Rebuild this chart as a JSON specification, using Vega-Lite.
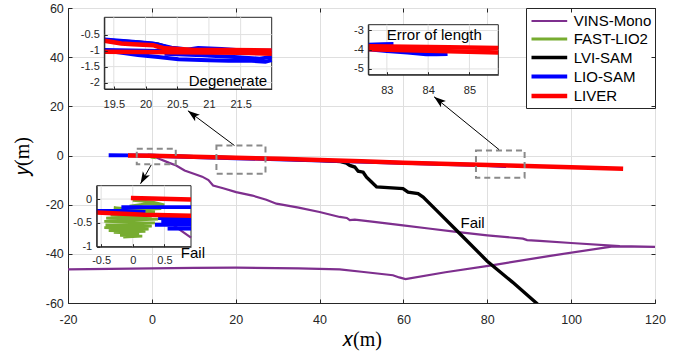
{
  "$schema": "https://vega.github.io/schema/vega-lite/v6.json",
  "width": 587,
  "height": 295,
  "autosize": {"type": "none"},
  "padding": {"left": 68, "top": 8, "right": 29, "bottom": 50},
  "background": "white",
  "config": {
    "locale": {"number": {"decimal": ".", "thousands": ",", "grouping": [3], "currency": ["$", ""], "minus": "-"}},
    "view": {"stroke": "#262626", "strokeWidth": 1},
    "font": "Liberation Sans",
    "axis": {
      "labelFont": "Liberation Sans", "labelFontSize": 12.5, "labelColor": "#262626",
      "domainColor": "#262626", "tickColor": "#262626", "gridColor": "#dfdfdf",
      "labelFlush": false, "labelOverlap": false, "tickSize": -4,
      "titleFont": "Liberation Serif", "titleFontSize": 20, "titleFontWeight": "normal", "titleColor": "black"
    },
    "legend": {
      "orient": "top-right", "offset": 0, "padding": 3, "strokeColor": "#262626", "fillColor": "white",
      "symbolType": "M-1,0L3.2,0", "symbolSize": 289, "symbolStrokeWidth": 2.5,
      "labelFontSize": 15, "labelColor": "black", "labelFont": "Liberation Sans", "labelOffset": 22.7,
      "rowPadding": 0, "cornerRadius": 0
    }
  },
  "datasets": {
    "main": [
      {"s": "VINS-Mono", "x": 0.3, "y": -0.2}, {"s": "VINS-Mono", "x": 2, "y": -1.5}, {"s": "VINS-Mono", "x": 4, "y": -2.9},
      {"s": "VINS-Mono", "x": 5.8, "y": -4.05}, {"s": "VINS-Mono", "x": 7.8, "y": -6.1}, {"s": "VINS-Mono", "x": 10, "y": -7.4},
      {"s": "VINS-Mono", "x": 12, "y": -8.6}, {"s": "VINS-Mono", "x": 13.5, "y": -10}, {"s": "VINS-Mono", "x": 14.6, "y": -12.2},
      {"s": "VINS-Mono", "x": 17, "y": -13.3}, {"s": "VINS-Mono", "x": 20.1, "y": -14.9}, {"s": "VINS-Mono", "x": 24, "y": -16.3},
      {"s": "VINS-Mono", "x": 27.3, "y": -18}, {"s": "VINS-Mono", "x": 29.7, "y": -19.6}, {"s": "VINS-Mono", "x": 35, "y": -21.2},
      {"s": "VINS-Mono", "x": 40, "y": -23}, {"s": "VINS-Mono", "x": 44.8, "y": -25}, {"s": "VINS-Mono", "x": 46.5, "y": -25.4},
      {"s": "VINS-Mono", "x": 47.2, "y": -26.3}, {"s": "VINS-Mono", "x": 48.4, "y": -26.1}, {"s": "VINS-Mono", "x": 52, "y": -26.8},
      {"s": "VINS-Mono", "x": 59.9, "y": -28.4}, {"s": "VINS-Mono", "x": 66, "y": -29.7}, {"s": "VINS-Mono", "x": 72.6, "y": -31.1},
      {"s": "VINS-Mono", "x": 80, "y": -32.5}, {"s": "VINS-Mono", "x": 88.5, "y": -33.8}, {"s": "VINS-Mono", "x": 89.5, "y": -34.4},
      {"s": "VINS-Mono", "x": 92.5, "y": -34.7}, {"s": "VINS-Mono", "x": 100, "y": -35.6}, {"s": "VINS-Mono", "x": 111.6, "y": -36.9},
      {"s": "VINS-Mono", "x": 120, "y": -37.2}, {"s": "VINS-Mono", "x": 126, "y": -37.3}, {"s": "VINS-Mono", "x": 120, "y": -37.15},
      {"s": "VINS-Mono", "x": 110, "y": -37.0}, {"s": "VINS-Mono", "x": 95, "y": -40.8}, {"s": "VINS-Mono", "x": 81.4, "y": -44.6},
      {"s": "VINS-Mono", "x": 70, "y": -47.5}, {"s": "VINS-Mono", "x": 60.5, "y": -50.3}, {"s": "VINS-Mono", "x": 59, "y": -49.6},
      {"s": "VINS-Mono", "x": 57.5, "y": -48.7}, {"s": "VINS-Mono", "x": 50, "y": -47.3}, {"s": "VINS-Mono", "x": 44.8, "y": -46.3},
      {"s": "VINS-Mono", "x": 35, "y": -45.9}, {"s": "VINS-Mono", "x": 20.1, "y": -45.6}, {"s": "VINS-Mono", "x": 10, "y": -45.7},
      {"s": "VINS-Mono", "x": 0, "y": -45.9}, {"s": "VINS-Mono", "x": -10, "y": -46.1}, {"s": "VINS-Mono", "x": -20, "y": -46.3},
      {"s": "VINS-Mono", "x": -25, "y": -46.4},
      {"s": "FAST-LIO2", "x": -0.4, "y": -0.3}, {"s": "FAST-LIO2", "x": 0.4, "y": -0.5}, {"s": "FAST-LIO2", "x": -0.3, "y": -0.7},
      {"s": "FAST-LIO2", "x": 0.3, "y": -0.8}, {"s": "FAST-LIO2", "x": 0, "y": -0.2},
      {"s": "LVI-SAM", "x": -1, "y": 0.05}, {"s": "LVI-SAM", "x": 10, "y": -0.45}, {"s": "LVI-SAM", "x": 20, "y": -0.85},
      {"s": "LVI-SAM", "x": 30, "y": -1.4}, {"s": "LVI-SAM", "x": 40, "y": -2.0}, {"s": "LVI-SAM", "x": 45, "y": -2.5},
      {"s": "LVI-SAM", "x": 46.4, "y": -3.1}, {"s": "LVI-SAM", "x": 47.2, "y": -4.05}, {"s": "LVI-SAM", "x": 48.4, "y": -4.7},
      {"s": "LVI-SAM", "x": 49.2, "y": -6.4}, {"s": "LVI-SAM", "x": 50.4, "y": -6.8}, {"s": "LVI-SAM", "x": 51.2, "y": -8.8},
      {"s": "LVI-SAM", "x": 52.4, "y": -10.8}, {"s": "LVI-SAM", "x": 53.6, "y": -12.8}, {"s": "LVI-SAM", "x": 59.9, "y": -13.5},
      {"s": "LVI-SAM", "x": 61.1, "y": -14.9}, {"s": "LVI-SAM", "x": 63.5, "y": -15.5}, {"s": "LVI-SAM", "x": 64.7, "y": -16.9},
      {"s": "LVI-SAM", "x": 67.9, "y": -22.3}, {"s": "LVI-SAM", "x": 73, "y": -31}, {"s": "LVI-SAM", "x": 80, "y": -43},
      {"s": "LVI-SAM", "x": 86, "y": -51.5}, {"s": "LVI-SAM", "x": 91.7, "y": -60}, {"s": "LVI-SAM", "x": 93, "y": -62},
      {"s": "LIO-SAM", "x": -10.3, "y": 0.1}, {"s": "LIO-SAM", "x": -5, "y": 0.05}, {"s": "LIO-SAM", "x": 0, "y": -0.1},
      {"s": "LIO-SAM", "x": 10, "y": -0.6}, {"s": "LIO-SAM", "x": 20, "y": -1.1}, {"s": "LIO-SAM", "x": 30, "y": -1.5},
      {"s": "LIO-SAM", "x": 45, "y": -2.3}, {"s": "LIO-SAM", "x": 60, "y": -3.0}, {"s": "LIO-SAM", "x": 75, "y": -3.7},
      {"s": "LIO-SAM", "x": 80, "y": -3.9}, {"s": "LIO-SAM", "x": 84.5, "y": -4.3},
      {"s": "LIVER", "x": -5.7, "y": 0.05}, {"s": "LIVER", "x": 0, "y": -0.1}, {"s": "LIVER", "x": 10, "y": -0.5},
      {"s": "LIVER", "x": 20, "y": -0.95}, {"s": "LIVER", "x": 30.5, "y": -1.35}, {"s": "LIVER", "x": 40, "y": -1.8},
      {"s": "LIVER", "x": 50, "y": -2.3}, {"s": "LIVER", "x": 60, "y": -2.9}, {"s": "LIVER", "x": 73.4, "y": -3.6},
      {"s": "LIVER", "x": 85, "y": -4.1}, {"s": "LIVER", "x": 100, "y": -4.8}, {"s": "LIVER", "x": 112.4, "y": -5.4}
    ],
    "ins": [
      {"i": 1, "s": "LVI-SAM", "g": 1, "x": 19.35, "y": -0.67}, {"i": 1, "s": "LVI-SAM", "g": 1, "x": 19.9, "y": -0.74},
      {"i": 1, "s": "LVI-SAM", "g": 1, "x": 20.2, "y": -0.8}, {"i": 1, "s": "LVI-SAM", "g": 1, "x": 20.4, "y": -0.92},
      {"i": 1, "s": "LVI-SAM", "g": 1, "x": 20.7, "y": -0.97},
      {"i": 1, "s": "LIO-SAM", "g": 1, "x": 19.35, "y": -0.65}, {"i": 1, "s": "LIO-SAM", "g": 1, "x": 19.8, "y": -0.72},
      {"i": 1, "s": "LIO-SAM", "g": 1, "x": 20.12, "y": -0.78}, {"i": 1, "s": "LIO-SAM", "g": 1, "x": 20.41, "y": -0.91},
      {"i": 1, "s": "LIO-SAM", "g": 1, "x": 20.6, "y": -0.95},
      {"i": 1, "s": "LIO-SAM", "g": 2, "x": 19.35, "y": -1.0}, {"i": 1, "s": "LIO-SAM", "g": 2, "x": 19.6, "y": -1.06},
      {"i": 1, "s": "LIO-SAM", "g": 2, "x": 19.88, "y": -1.14}, {"i": 1, "s": "LIO-SAM", "g": 2, "x": 20.2, "y": -1.2},
      {"i": 1, "s": "LIO-SAM", "g": 2, "x": 20.52, "y": -1.27}, {"i": 1, "s": "LIO-SAM", "g": 2, "x": 21.0, "y": -1.3},
      {"i": 1, "s": "LIO-SAM", "g": 2, "x": 21.31, "y": -1.32}, {"i": 1, "s": "LIO-SAM", "g": 2, "x": 21.6, "y": -1.31},
      {"i": 1, "s": "LIO-SAM", "g": 2, "x": 21.89, "y": -1.35}, {"i": 1, "s": "LIO-SAM", "g": 2, "x": 21.99, "y": -1.3},
      {"i": 1, "s": "LIO-SAM", "g": 3, "x": 19.35, "y": -0.98}, {"i": 1, "s": "LIO-SAM", "g": 3, "x": 20.0, "y": -1.0},
      {"i": 1, "s": "LIO-SAM", "g": 3, "x": 20.5, "y": -1.02}, {"i": 1, "s": "LIO-SAM", "g": 3, "x": 20.83, "y": -0.92},
      {"i": 1, "s": "LIO-SAM", "g": 3, "x": 21.2, "y": -0.95}, {"i": 1, "s": "LIO-SAM", "g": 3, "x": 21.6, "y": -1.0},
      {"i": 1, "s": "LIO-SAM", "g": 3, "x": 21.99, "y": -1.0},
      {"i": 1, "s": "LIO-SAM", "g": 4, "x": 20.3, "y": -1.1}, {"i": 1, "s": "LIO-SAM", "g": 4, "x": 20.9, "y": -1.15},
      {"i": 1, "s": "LIO-SAM", "g": 4, "x": 21.4, "y": -1.2}, {"i": 1, "s": "LIO-SAM", "g": 4, "x": 21.8, "y": -1.25},
      {"i": 1, "s": "LIO-SAM", "g": 4, "x": 21.99, "y": -1.2},
      {"i": 1, "s": "LIVER", "g": 1, "x": 19.35, "y": -0.69}, {"i": 1, "s": "LIVER", "g": 1, "x": 19.62, "y": -0.78},
      {"i": 1, "s": "LIVER", "g": 1, "x": 19.8, "y": -0.8}, {"i": 1, "s": "LIVER", "g": 1, "x": 20.12, "y": -0.83},
      {"i": 1, "s": "LIVER", "g": 1, "x": 20.2, "y": -0.88}, {"i": 1, "s": "LIVER", "g": 1, "x": 20.31, "y": -0.93},
      {"i": 1, "s": "LIVER", "g": 1, "x": 20.78, "y": -0.98}, {"i": 1, "s": "LIVER", "g": 1, "x": 21.3, "y": -0.98},
      {"i": 1, "s": "LIVER", "g": 1, "x": 21.99, "y": -1.0},
      {"i": 1, "s": "LIVER", "g": 2, "x": 19.35, "y": -1.04}, {"i": 1, "s": "LIVER", "g": 2, "x": 20.5, "y": -1.05},
      {"i": 1, "s": "LIVER", "g": 2, "x": 21.5, "y": -1.07}, {"i": 1, "s": "LIVER", "g": 2, "x": 21.99, "y": -1.1},
      {"i": 2, "s": "LIO-SAM", "g": 1, "x": 82.55, "y": -3.74}, {"i": 2, "s": "LIO-SAM", "g": 1, "x": 82.9, "y": -3.72},
      {"i": 2, "s": "LIO-SAM", "g": 1, "x": 83.16, "y": -3.7},
      {"i": 2, "s": "LIO-SAM", "g": 2, "x": 82.55, "y": -3.98}, {"i": 2, "s": "LIO-SAM", "g": 2, "x": 83.0, "y": -4.07},
      {"i": 2, "s": "LIO-SAM", "g": 2, "x": 83.5, "y": -4.15}, {"i": 2, "s": "LIO-SAM", "g": 2, "x": 83.95, "y": -4.24},
      {"i": 2, "s": "LIO-SAM", "g": 2, "x": 84.2, "y": -4.24}, {"i": 2, "s": "LIO-SAM", "g": 2, "x": 84.47, "y": -4.22},
      {"i": 2, "s": "LIVER", "g": 1, "x": 82.55, "y": -3.82}, {"i": 2, "s": "LIVER", "g": 1, "x": 83.5, "y": -3.85},
      {"i": 2, "s": "LIVER", "g": 1, "x": 84.5, "y": -3.87}, {"i": 2, "s": "LIVER", "g": 1, "x": 85.7, "y": -3.91},
      {"i": 2, "s": "LIVER", "g": 2, "x": 82.55, "y": -3.98}, {"i": 2, "s": "LIVER", "g": 2, "x": 83.5, "y": -4.03},
      {"i": 2, "s": "LIVER", "g": 2, "x": 84.5, "y": -4.08}, {"i": 2, "s": "LIVER", "g": 2, "x": 85.7, "y": -4.14},
      {"i": 3, "s": "VINS-Mono", "g": 1, "x": 0.6, "y": -0.5}, {"i": 3, "s": "VINS-Mono", "g": 1, "x": 0.74, "y": -0.64},
      {"i": 3, "s": "VINS-Mono", "g": 1, "x": 0.92, "y": -0.81},
      {"i": 3, "s": "FAST-LIO2", "g": 1, "x": 0.0, "y": -0.03}, {"i": 3, "s": "FAST-LIO2", "g": 1, "x": 0.3, "y": -0.06},
      {"i": 3, "s": "FAST-LIO2", "g": 1, "x": 0.5, "y": -0.12}, {"i": 3, "s": "FAST-LIO2", "g": 1, "x": 0.2, "y": -0.1},
      {"i": 3, "s": "FAST-LIO2", "g": 1, "x": -0.05, "y": -0.15}, {"i": 3, "s": "FAST-LIO2", "g": 1, "x": 0.45, "y": -0.2},
      {"i": 3, "s": "FAST-LIO2", "g": 1, "x": 0.1, "y": -0.22}, {"i": 3, "s": "FAST-LIO2", "g": 1, "x": -0.3, "y": -0.18},
      {"i": 3, "s": "FAST-LIO2", "g": 1, "x": 0.35, "y": -0.27}, {"i": 3, "s": "FAST-LIO2", "g": 1, "x": -0.35, "y": -0.33},
      {"i": 3, "s": "FAST-LIO2", "g": 1, "x": 0.3, "y": -0.36}, {"i": 3, "s": "FAST-LIO2", "g": 1, "x": -0.42, "y": -0.4},
      {"i": 3, "s": "FAST-LIO2", "g": 1, "x": 0.4, "y": -0.42}, {"i": 3, "s": "FAST-LIO2", "g": 1, "x": -0.45, "y": -0.47},
      {"i": 3, "s": "FAST-LIO2", "g": 1, "x": 0.35, "y": -0.5}, {"i": 3, "s": "FAST-LIO2", "g": 1, "x": -0.43, "y": -0.54},
      {"i": 3, "s": "FAST-LIO2", "g": 1, "x": 0.3, "y": -0.57}, {"i": 3, "s": "FAST-LIO2", "g": 1, "x": -0.45, "y": -0.6},
      {"i": 3, "s": "FAST-LIO2", "g": 1, "x": 0.25, "y": -0.63}, {"i": 3, "s": "FAST-LIO2", "g": 1, "x": -0.38, "y": -0.66},
      {"i": 3, "s": "FAST-LIO2", "g": 1, "x": 0.2, "y": -0.68}, {"i": 3, "s": "FAST-LIO2", "g": 1, "x": -0.3, "y": -0.7},
      {"i": 3, "s": "FAST-LIO2", "g": 1, "x": 0.1, "y": -0.72}, {"i": 3, "s": "FAST-LIO2", "g": 1, "x": -0.2, "y": -0.76},
      {"i": 3, "s": "FAST-LIO2", "g": 1, "x": 0.15, "y": -0.78}, {"i": 3, "s": "FAST-LIO2", "g": 1, "x": -0.15, "y": -0.8},
      {"i": 3, "s": "FAST-LIO2", "g": 1, "x": 0.05, "y": -0.75}, {"i": 3, "s": "FAST-LIO2", "g": 1, "x": -0.25, "y": -0.62},
      {"i": 3, "s": "FAST-LIO2", "g": 1, "x": 0.1, "y": -0.5}, {"i": 3, "s": "FAST-LIO2", "g": 1, "x": -0.3, "y": -0.45},
      {"i": 3, "s": "FAST-LIO2", "g": 1, "x": 0.2, "y": -0.4}, {"i": 3, "s": "FAST-LIO2", "g": 1, "x": -0.2, "y": -0.35},
      {"i": 3, "s": "FAST-LIO2", "g": 1, "x": 0.05, "y": -0.28}, {"i": 3, "s": "FAST-LIO2", "g": 1, "x": -0.1, "y": -0.45},
      {"i": 3, "s": "FAST-LIO2", "g": 1, "x": 0.15, "y": -0.6}, {"i": 3, "s": "FAST-LIO2", "g": 1, "x": -0.35, "y": -0.55},
      {"i": 3, "s": "FAST-LIO2", "g": 1, "x": 0.0, "y": -0.65}, {"i": 3, "s": "FAST-LIO2", "g": 1, "x": -0.28, "y": -0.38},
      {"i": 3, "s": "LIO-SAM", "g": 1, "x": -0.18, "y": -0.17}, {"i": 3, "s": "LIO-SAM", "g": 1, "x": 0.3, "y": -0.17},
      {"i": 3, "s": "LIO-SAM", "g": 1, "x": 0.92, "y": -0.17},
      {"i": 3, "s": "LIO-SAM", "g": 2, "x": -0.57, "y": -0.25}, {"i": 3, "s": "LIO-SAM", "g": 2, "x": -0.1, "y": -0.25},
      {"i": 3, "s": "LIO-SAM", "g": 2, "x": 0.2, "y": -0.27},
      {"i": 3, "s": "LIO-SAM", "g": 3, "x": 0.4, "y": -0.4}, {"i": 3, "s": "LIO-SAM", "g": 3, "x": 0.7, "y": -0.41},
      {"i": 3, "s": "LIO-SAM", "g": 3, "x": 0.92, "y": -0.4},
      {"i": 3, "s": "LIO-SAM", "g": 4, "x": 0.45, "y": -0.47}, {"i": 3, "s": "LIO-SAM", "g": 4, "x": 0.92, "y": -0.47},
      {"i": 3, "s": "LIO-SAM", "g": 5, "x": 0.35, "y": -0.54}, {"i": 3, "s": "LIO-SAM", "g": 5, "x": 0.92, "y": -0.54},
      {"i": 3, "s": "LIO-SAM", "g": 6, "x": 0.55, "y": -0.62}, {"i": 3, "s": "LIO-SAM", "g": 6, "x": 0.92, "y": -0.62},
      {"i": 3, "s": "LIVER", "g": 1, "x": -0.03, "y": 0.02}, {"i": 3, "s": "LIVER", "g": 1, "x": 0.3, "y": 0.01},
      {"i": 3, "s": "LIVER", "g": 1, "x": 0.6, "y": 0.0}, {"i": 3, "s": "LIVER", "g": 1, "x": 0.92, "y": -0.01},
      {"i": 3, "s": "LIVER", "g": 2, "x": -0.57, "y": -0.28}, {"i": 3, "s": "LIVER", "g": 2, "x": 0.19, "y": -0.33},
      {"i": 3, "s": "LIVER", "g": 2, "x": 0.92, "y": -0.35}
    ],
    "frames": [
      {"i": 1, "x0": 19.35, "x1": 21.99, "y0": -2.2, "y1": 0.04},
      {"i": 2, "x0": 82.55, "x1": 85.7, "y0": -5.3, "y1": -2.7},
      {"i": 3, "x0": -0.57, "x1": 0.92, "y0": -1, "y1": 0.28}
    ],
    "grid": [
      {"i": 1, "d": "x", "v": 19.5}, {"i": 1, "d": "x", "v": 20}, {"i": 1, "d": "x", "v": 20.5}, {"i": 1, "d": "x", "v": 21}, {"i": 1, "d": "x", "v": 21.5},
      {"i": 1, "d": "y", "v": -2}, {"i": 1, "d": "y", "v": -1.5}, {"i": 1, "d": "y", "v": -1}, {"i": 1, "d": "y", "v": -0.5},
      {"i": 2, "d": "x", "v": 83}, {"i": 2, "d": "x", "v": 84}, {"i": 2, "d": "x", "v": 85},
      {"i": 2, "d": "y", "v": -5}, {"i": 2, "d": "y", "v": -4}, {"i": 2, "d": "y", "v": -3},
      {"i": 3, "d": "x", "v": -0.5}, {"i": 3, "d": "x", "v": 0}, {"i": 3, "d": "x", "v": 0.5},
      {"i": 3, "d": "y", "v": -0.5}, {"i": 3, "d": "y", "v": 0}
    ],
    "labels": [
      {"i": 0, "x": 76.5, "y": -27.4, "t": "Fail"},
      {"i": 1, "x": 21.3, "y": -1.94, "t": "Degenerate"},
      {"i": 2, "x": 84.15, "y": -3.22, "t": "Error of length"},
      {"i": 3, "x": 0.95, "y": -1.13, "t": "Fail"}
    ],
    "boxes": [
      {"x0": -3.6, "x1": 5.7, "y0": -3.6, "y1": 2.7},
      {"x0": 15.4, "x1": 27.1, "y0": -7.4, "y1": 4.05},
      {"x0": 77.3, "x1": 88.9, "y0": -9.0, "y1": 2.0}
    ],
    "arrows": [
      {"x0": 19.7, "y0": 4.05, "x1": 8.6, "y1": 18.2, "ang": 307},
      {"x0": 82.8, "y0": 2.4, "x1": 67.3, "y1": 23.9, "ang": 308.5},
      {"x0": -0.14, "y0": -3.8, "x1": -2.7, "y1": -11.5, "ang": 209}
    ]
  },
  "resolve": {"scale": {"x": "independent", "y": "independent"}, "axis": {"x": "independent", "y": "independent"}},
  "layer": [
    {
      "layer": [
        {
          "data": {"name": "main"},
          "mark": {"type": "line", "clip": true},
          "encoding": {
            "x": {"field": "x", "type": "quantitative", "scale": {"domain": [-20, 120], "nice": false, "zero": false},
                  "axis": {"orient": "bottom", "values": [-20, 0, 20, 40, 60, 80, 100, 120], "labelExpr": "'' + datum.value", "labelPadding": 14, "grid": true, "title": "𝑥(m)", "titlePadding": 4, "zindex": 0}},
            "y": {"field": "y", "type": "quantitative", "scale": {"domain": [-60, 60], "nice": false, "zero": false},
                  "axis": {"orient": "left", "values": [-60, -40, -20, 0, 20, 40, 60], "labelExpr": "'' + datum.value", "labelPadding": 8.7, "grid": true, "title": "𝑦(m)", "titlePadding": 13, "zindex": 0}},
            "color": {"field": "s", "type": "nominal", "scale": {"domain": ["VINS-Mono", "FAST-LIO2", "LVI-SAM", "LIO-SAM", "LIVER"], "range": ["#7E2F8E", "#77AC30", "#000000", "#0000FF", "#FF0000"]}, "legend": {"title": null}},
            "strokeWidth": {"field": "s", "type": "nominal", "scale": {"domain": ["VINS-Mono", "FAST-LIO2", "LVI-SAM", "LIO-SAM", "LIVER"], "range": [2.2, 4.5, 2, 3, 3.2]}, "legend": null},
            "order": {"value": null}
          }
        },
        {
          "data": {"name": "boxes"},
          "mark": {"type": "rect", "fillOpacity": 0, "stroke": "#8a8a8a", "strokeWidth": 2, "strokeDash": [6, 4]},
          "encoding": {"x": {"field": "x0", "type": "quantitative"}, "x2": {"field": "x1"}, "y": {"field": "y0", "type": "quantitative"}, "y2": {"field": "y1"}}
        },
        {
          "data": {"name": "arrows"},
          "mark": {"type": "rule", "color": "black", "strokeWidth": 1},
          "encoding": {"x": {"field": "x0", "type": "quantitative"}, "x2": {"field": "x1"}, "y": {"field": "y0", "type": "quantitative"}, "y2": {"field": "y1"}}
        },
        {
          "data": {"name": "arrows"},
          "mark": {"type": "point", "shape": "M0,0L0.5,1.5L0,1.15L-0.5,1.5Z", "filled": true, "color": "black", "opacity": 1, "size": 256},
          "encoding": {"x": {"field": "x1", "type": "quantitative"}, "y": {"field": "y1", "type": "quantitative"}, "angle": {"field": "ang", "type": "quantitative", "scale": null}}
        },
        {
          "data": {"name": "labels"},
          "transform": [{"filter": "datum.i == 0"}],
          "mark": {"type": "text", "fontSize": 15, "font": "Liberation Sans", "color": "black"},
          "encoding": {"x": {"field": "x", "type": "quantitative"}, "y": {"field": "y", "type": "quantitative"}, "text": {"field": "t"}}
        }
      ]
    },
    {
      "data": {"name": "boxes"},
      "mark": {"type": "rect", "opacity": 0},
      "encoding": {
        "x": {"field": "x0", "type": "quantitative", "scale": {"domain": [-20, 120], "nice": false, "zero": false},
              "axis": {"orient": "top", "values": [-20, 0, 20, 40, 60, 80, 100, 120], "labels": false, "domain": false, "grid": false, "title": null, "zindex": 1}},
        "x2": {"field": "x1"},
        "y": {"field": "y0", "type": "quantitative", "scale": {"domain": [-60, 60], "nice": false, "zero": false},
              "axis": {"orient": "right", "values": [-60, -40, -20, 0, 20, 40, 60], "labels": false, "domain": false, "grid": false, "title": null, "zindex": 1}},
        "y2": {"field": "y1"}
      }
    },
    {
      "layer": [
        {
          "data": {"name": "frames"},
          "transform": [{"filter": "datum.i == 1"}],
          "mark": {"type": "rect", "fill": "white", "stroke": "#262626", "strokeWidth": 1},
          "encoding": {
            "x": {"field": "x0", "type": "quantitative", "scale": {"domain": [19.35, 21.99], "range": [36.3, 203.7], "nice": false, "zero": false},
                  "axis": {"orient": "bottom", "offset": -214, "values": [19.5, 20, 20.5, 21, 21.5], "labelExpr": "'' + datum.value", "grid": false, "title": null, "zindex": 1, "tickSize": -3, "labelFontSize": 11, "labelPadding": 12}},
            "x2": {"field": "x1"},
            "y": {"field": "y0", "type": "quantitative", "scale": {"domain": [-2.2, 0.04], "range": [81, 9.3], "nice": false, "zero": false},
                  "axis": {"orient": "left", "offset": -36.3, "values": [-2, -1.5, -1, -0.5], "labelExpr": "'' + datum.value", "grid": false, "title": null, "zindex": 1, "tickSize": -3, "labelFontSize": 11, "labelPadding": 8}},
            "y2": {"field": "y1"}
          }
        },
        {
          "data": {"name": "grid"},
          "transform": [{"filter": "datum.i == 1 && datum.d == 'x'"}],
          "mark": {"type": "rule", "color": "#e0e0e0", "strokeWidth": 1},
          "encoding": {"x": {"field": "v", "type": "quantitative"}, "y": {"datum": -2.2, "type": "quantitative"}, "y2": {"datum": 0.04}}
        },
        {
          "data": {"name": "grid"},
          "transform": [{"filter": "datum.i == 1 && datum.d == 'y'"}],
          "mark": {"type": "rule", "color": "#e0e0e0", "strokeWidth": 1},
          "encoding": {"y": {"field": "v", "type": "quantitative"}, "x": {"datum": 19.35, "type": "quantitative"}, "x2": {"datum": 21.99}}
        },
        {
          "data": {"name": "ins"},
          "transform": [{"filter": "datum.i == 1"}],
          "mark": {"type": "line"},
          "encoding": {
            "x": {"field": "x", "type": "quantitative"},
            "y": {"field": "y", "type": "quantitative"},
            "color": {"field": "s", "type": "nominal", "legend": {"title": null}},
            "detail": {"field": "g"},
            "strokeWidth": {"field": "s", "type": "nominal", "legend": null},
            "order": {"value": null}
          }
        },
        {
          "data": {"name": "labels"},
          "transform": [{"filter": "datum.i == 1"}],
          "mark": {"type": "text", "fontSize": 15, "font": "Liberation Sans", "color": "black"},
          "encoding": {"x": {"field": "x", "type": "quantitative"}, "y": {"field": "y", "type": "quantitative"}, "text": {"field": "t"}}
        }
      ]
    },
    {
      "layer": [
        {
          "data": {"name": "frames"},
          "transform": [{"filter": "datum.i == 2"}],
          "mark": {"type": "rect", "fill": "white", "stroke": "#262626", "strokeWidth": 1},
          "encoding": {
            "x": {"field": "x0", "type": "quantitative", "scale": {"domain": [82.55, 85.7], "range": [300.3, 430.3], "nice": false, "zero": false},
                  "axis": {"orient": "bottom", "offset": -228.3, "values": [83, 84, 85], "labelExpr": "'' + datum.value", "grid": false, "title": null, "zindex": 1, "tickSize": -3, "labelFontSize": 11, "labelPadding": 13}},
            "x2": {"field": "x1"},
            "y": {"field": "y0", "type": "quantitative", "scale": {"domain": [-5.3, -2.7], "range": [66.7, 16.7], "nice": false, "zero": false},
                  "axis": {"orient": "left", "offset": -300.3, "values": [-5, -4, -3], "labelExpr": "'' + datum.value", "grid": false, "title": null, "zindex": 1, "tickSize": -3, "labelFontSize": 11, "labelPadding": 8}},
            "y2": {"field": "y1"}
          }
        },
        {
          "data": {"name": "grid"},
          "transform": [{"filter": "datum.i == 2 && datum.d == 'x'"}],
          "mark": {"type": "rule", "color": "#e0e0e0", "strokeWidth": 1},
          "encoding": {"x": {"field": "v", "type": "quantitative"}, "y": {"datum": -5.3, "type": "quantitative"}, "y2": {"datum": -2.7}}
        },
        {
          "data": {"name": "grid"},
          "transform": [{"filter": "datum.i == 2 && datum.d == 'y'"}],
          "mark": {"type": "rule", "color": "#e0e0e0", "strokeWidth": 1},
          "encoding": {"y": {"field": "v", "type": "quantitative"}, "x": {"datum": 82.55, "type": "quantitative"}, "x2": {"datum": 85.7}}
        },
        {
          "data": {"name": "ins"},
          "transform": [{"filter": "datum.i == 2"}],
          "mark": {"type": "line"},
          "encoding": {
            "x": {"field": "x", "type": "quantitative"},
            "y": {"field": "y", "type": "quantitative"},
            "color": {"field": "s", "type": "nominal", "legend": {"title": null}},
            "detail": {"field": "g"},
            "strokeWidth": {"field": "s", "type": "nominal", "legend": null},
            "order": {"value": null}
          }
        },
        {
          "data": {"name": "labels"},
          "transform": [{"filter": "datum.i == 2"}],
          "mark": {"type": "text", "fontSize": 15, "font": "Liberation Sans", "color": "black"},
          "encoding": {"x": {"field": "x", "type": "quantitative"}, "y": {"field": "y", "type": "quantitative"}, "text": {"field": "t"}}
        }
      ]
    },
    {
      "layer": [
        {
          "data": {"name": "frames"},
          "transform": [{"filter": "datum.i == 3"}],
          "mark": {"type": "rect", "fill": "white", "stroke": "#262626", "strokeWidth": 1},
          "encoding": {
            "x": {"field": "x0", "type": "quantitative", "scale": {"domain": [-0.57, 0.92], "range": [28.7, 123], "nice": false, "zero": false},
                  "axis": {"orient": "bottom", "offset": -56.3, "values": [-0.5, 0, 0.5], "labelExpr": "'' + datum.value", "grid": false, "title": null, "zindex": 1, "tickSize": -3, "labelFontSize": 11, "labelPadding": 11}},
            "x2": {"field": "x1"},
            "y": {"field": "y0", "type": "quantitative", "scale": {"domain": [-1, 0.28], "range": [238.7, 177.7], "nice": false, "zero": false},
                  "axis": {"orient": "left", "offset": -28.7, "values": [-1, -0.5, 0], "labelExpr": "'' + datum.value", "grid": false, "title": null, "zindex": 1, "tickSize": -3, "labelFontSize": 11, "labelPadding": 8}},
            "y2": {"field": "y1"}
          }
        },
        {
          "data": {"name": "grid"},
          "transform": [{"filter": "datum.i == 3 && datum.d == 'x'"}],
          "mark": {"type": "rule", "color": "#e0e0e0", "strokeWidth": 1},
          "encoding": {"x": {"field": "v", "type": "quantitative"}, "y": {"datum": -1, "type": "quantitative"}, "y2": {"datum": 0.28}}
        },
        {
          "data": {"name": "grid"},
          "transform": [{"filter": "datum.i == 3 && datum.d == 'y'"}],
          "mark": {"type": "rule", "color": "#e0e0e0", "strokeWidth": 1},
          "encoding": {"y": {"field": "v", "type": "quantitative"}, "x": {"datum": -0.57, "type": "quantitative"}, "x2": {"datum": 0.92}}
        },
        {
          "data": {"name": "ins"},
          "transform": [{"filter": "datum.i == 3"}],
          "mark": {"type": "line"},
          "encoding": {
            "x": {"field": "x", "type": "quantitative"},
            "y": {"field": "y", "type": "quantitative"},
            "color": {"field": "s", "type": "nominal", "legend": {"title": null}},
            "detail": {"field": "g"},
            "strokeWidth": {"field": "s", "type": "nominal", "legend": null},
            "order": {"value": null}
          }
        },
        {
          "data": {"name": "labels"},
          "transform": [{"filter": "datum.i == 3"}],
          "mark": {"type": "text", "fontSize": 15, "font": "Liberation Sans", "color": "black"},
          "encoding": {"x": {"field": "x", "type": "quantitative"}, "y": {"field": "y", "type": "quantitative"}, "text": {"field": "t"}}
        }
      ]
    }
  ]
}
